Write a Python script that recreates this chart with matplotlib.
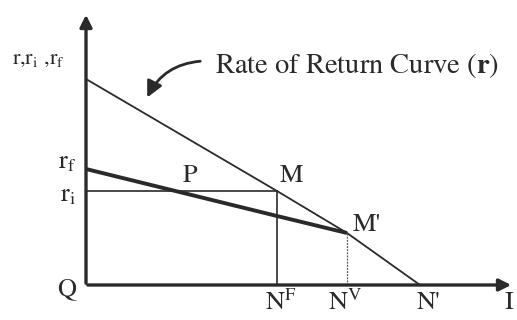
import matplotlib
matplotlib.use('Agg')
import matplotlib.pyplot as plt

plt.rcParams['font.family'] = 'STIXGeneral'
plt.rcParams['mathtext.fontset'] = 'stix'

# curve points (x: investment, y: rate)
r_x = [0.0, 19.1, 26.1, 33.4]      # rate of return curve r
r_y = [20.6, 9.4, 5.2, 0.0]
rf_x = [0.0, 19.1, 26.1]           # r_f line
rf_y = [11.6, 6.9, 5.2]
ri_level = 9.4
n_f = 19.1
n_v = 26.1
n_prime = 33.4
p_x = 9.6

ink = '#2a2a2a'

fig = plt.figure(figsize=(5.17, 3.2), dpi=100)
ax = fig.add_axes([0, 0, 1, 1])
ax.set_xlim(-8.6, 43.1)
ax.set_ylim(-3.5, 28.5)
ax.axis('off')

# axes with arrows
ax.annotate('', xy=(0, 27.3), xytext=(0, -0.1),
            arrowprops=dict(arrowstyle='-|>', lw=2.4, color=ink, mutation_scale=18))
ax.annotate('', xy=(42.8, 0), xytext=(-0.1, 0),
            arrowprops=dict(arrowstyle='-|>', lw=2.4, color=ink, mutation_scale=18))

# rate of return curve and r_f
ax.plot(r_x, r_y, color=ink, lw=1.3)
ax.plot(rf_x, rf_y, color=ink, lw=2.8, solid_capstyle='butt')

# r_i level and verticals
ax.plot([0, n_f], [ri_level, ri_level], color=ink, lw=1.2)
ax.plot([n_f, n_f], [0, ri_level], color=ink, lw=1.2)
ax.plot([n_v, n_v], [0, r_y[2]], color='#555555', lw=0.9, ls=(0, (1.5, 1)))

fs = 19
ax.text(-7.4, 22.6, r'r,r$_\mathrm{i}$ ,r$_\mathrm{f}$', fontsize=16, ha='left', va='center', color=ink)
ax.text(-1.0, 12.3, r'r$_\mathrm{f}$', fontsize=fs, ha='right', va='center', color=ink)
ax.text(-1.0, 9.0, r'r$_\mathrm{i}$', fontsize=fs, ha='right', va='center', color=ink)
ax.text(-1.0, -0.4, 'Q', fontsize=fs, ha='right', va='center', color=ink)
ax.text(p_x + 0.8, 10.9, 'P', fontsize=fs, ha='center', va='center', color=ink)
ax.text(n_f + 1.4, 10.9, 'M', fontsize=fs, ha='center', va='center', color=ink)
ax.text(n_v + 2.0, 6.0, "M'", fontsize=fs, ha='center', va='center', color=ink)
ax.text(n_f + 0.4, -1.8, r'N$^\mathrm{F}$', fontsize=fs, ha='center', va='center', color=ink)
ax.text(n_v - 0.2, -1.8, r'N$^\mathrm{V}$', fontsize=fs, ha='center', va='center', color=ink)
ax.text(n_prime + 0.9, -1.8, "N'", fontsize=fs, ha='center', va='center', color=ink)
ax.text(42.3, -1.8, 'I', fontsize=fs, ha='center', va='center', color=ink)

ax.text(12.9, 21.9, r'Rate of Return Curve ($\mathbf{r}$)', fontsize=20.5,
        ha='left', va='center', color=ink)
ax.annotate('', xy=(6.0, 18.5), xytext=(11.7, 22.4),
            arrowprops=dict(arrowstyle='-|>', lw=2.0, color=ink, mutation_scale=24,
                            connectionstyle='arc3,rad=0.3'))

fig.savefig('out.png', dpi=100, facecolor='white')
